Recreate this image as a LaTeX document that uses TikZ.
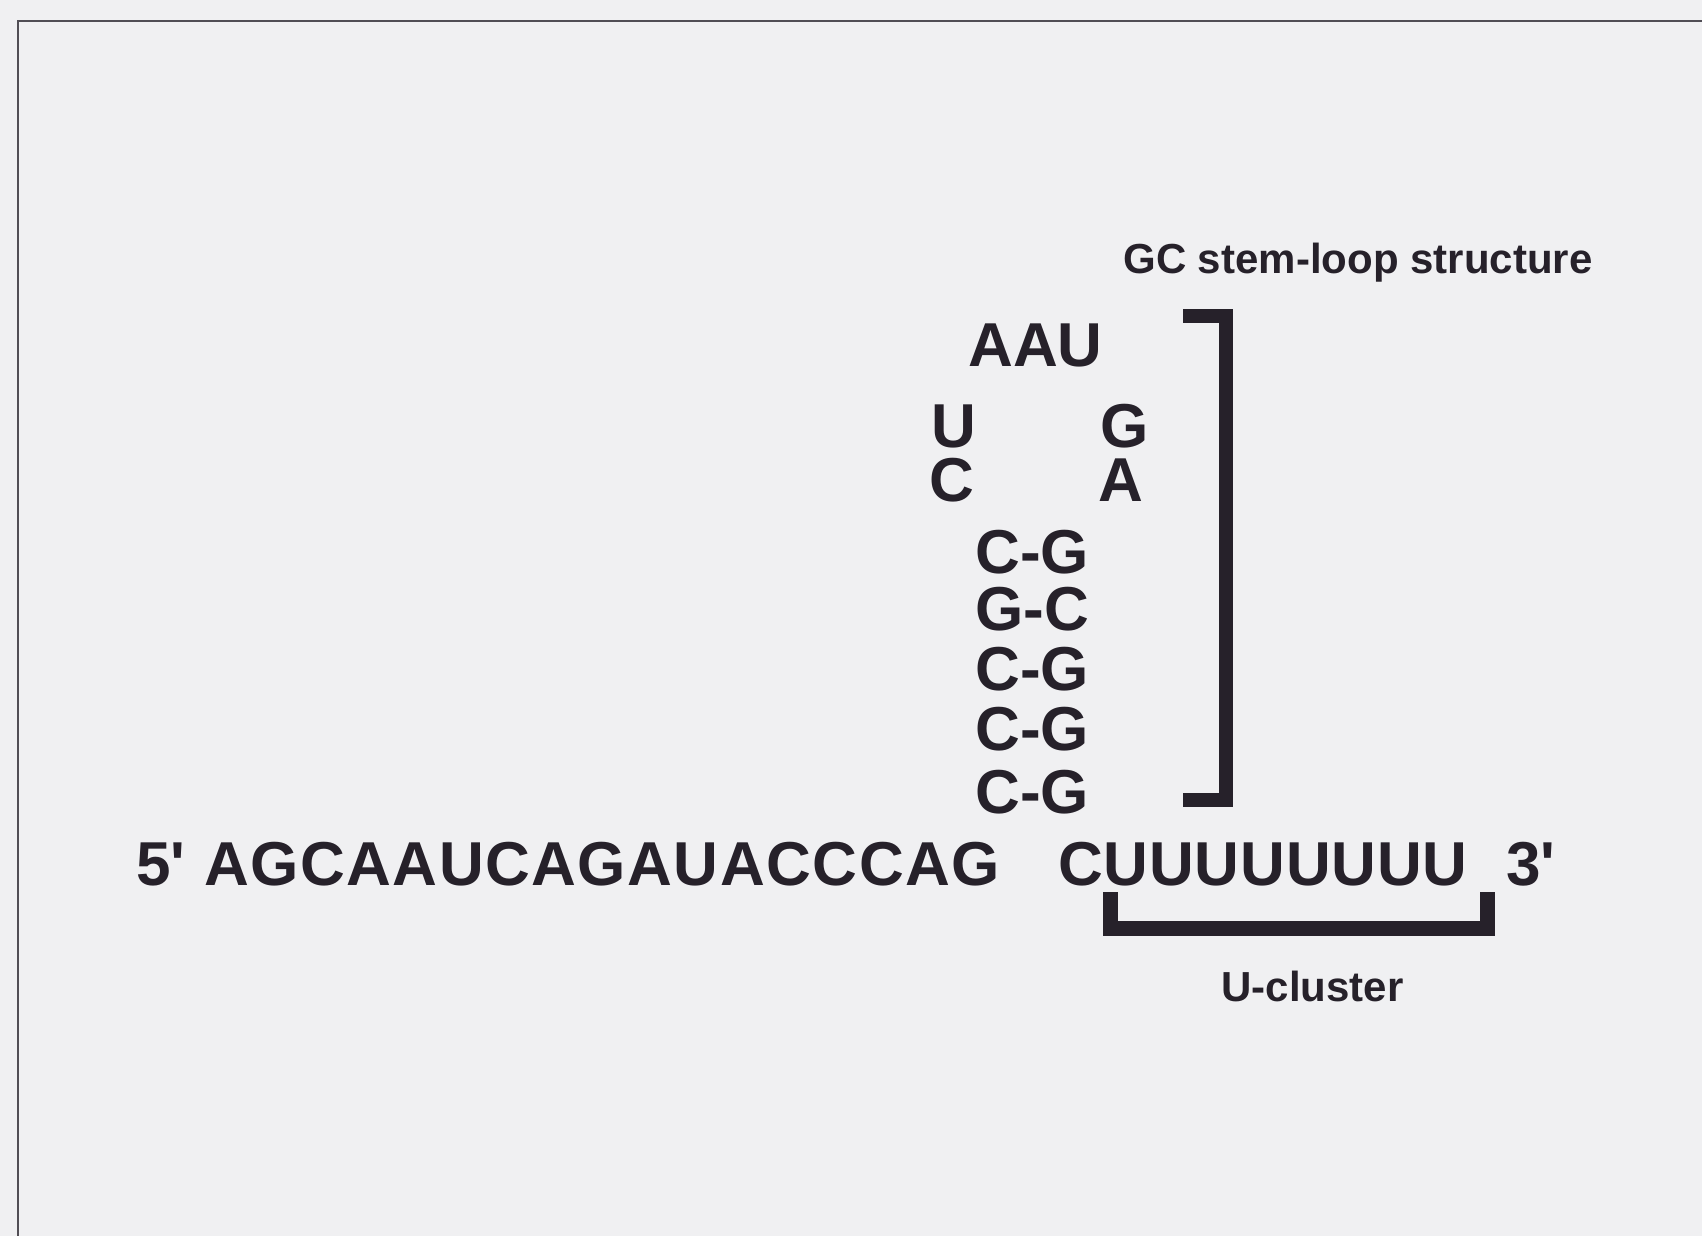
\documentclass[tikz,border=0pt]{standalone}
\usepackage{fontspec}
\setmainfont{Liberation Sans}
\usetikzlibrary{positioning}

\definecolor{paper}{RGB}{240,240,242}
\definecolor{ink}{RGB}{38,33,42}

\begin{document}
\begin{tikzpicture}[
  x=0.2mm, y=-0.2mm,
  every node/.style={inner sep=0pt, anchor=base west, text=ink},
  base/.style={font=\fontsize{35.3}{40}\selectfont\bfseries,
               text height=8.9mm, text depth=0.2mm},
  tag/.style={font=\fontsize{23.9}{28}\selectfont\bfseries},
  brace/.style={draw=ink, line join=miter},
]

%% Page and frame (1 unit = 1 px of the figure)
\fill[paper] (0,0) rectangle (1702,1236);
\useasboundingbox (0,0) rectangle (1702,1236);
\draw[ink!80, line width=0.5mm] (18,1236) -- (18,21) -- (1702,21);

%% Loop
\node[base] (loopAAU) at (968,367) {AAU};
\node[base] (loopU) at (931,447) {U};
\node[base] (loopG) at (1100,447) {G};
\node[base] (loopC) at (929,501) {C};
\node[base] (loopA) at (1098,501) {A};

%% Stem: base pairs
\foreach \pr/\yb [count=\i] in {C-G/573, G-C/630, C-G/690, C-G/750, C-G/813}
  \node[base] (pair\i) at (975,\yb) {\pr};

%% Main strand
\node[base] (seq5) at (136,885)
  {\addfontfeature{LetterSpace=2.4}5\textquotesingle{} AGCAAUCAGAUACCCAG};
\node[base] (tailU) at (1058,885)
  {\addfontfeature{LetterSpace=1.2}CUUUUUUUU};
\node[base] (end3) at (1506,885) {3\textquotesingle};

%% Stem-loop bracket
\draw[brace, line width=2.9mm] (1183,316) -- (1226,316) -- (1226,800) -- (1183,800);
\node[tag] (stemlab) at (1123,274) {GC stem-loop structure};

%% U-cluster bracket
\draw[brace, line width=3mm] (1110,892) -- (1110,928) -- (1487,928) -- (1487,892);
\node[tag] (ulab) at (1221,1001) {U-cluster};

\end{tikzpicture}
\end{document}
